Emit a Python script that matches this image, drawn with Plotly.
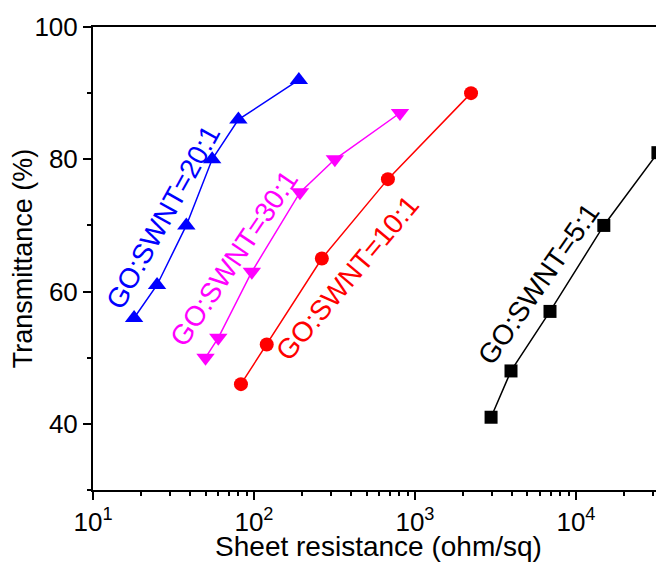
import plotly.graph_objects as go

FONT = "Liberation Sans, Arial, sans-serif"

# ---- data ----
r_20 = [18, 25, 38, 55, 80, 190]
t_20 = [56, 61, 70, 80, 86, 92]

r_30 = [50, 60, 97, 193, 318, 807]
t_30 = [50, 53, 63, 75, 80, 87]

r_10 = [83, 120, 264, 679, 2230]
t_10 = [46, 52, 65, 77, 90]

r_5 = [2970, 3950, 6900, 14900, 32300]
t_5 = [41, 48, 57, 70, 81]

x_tick_vals = [10, 100, 1000, 10000]
x_tick_text = ["10<sup>1</sup>", "10<sup>2</sup>", "10<sup>3</sup>", "10<sup>4</sup>"]

labels = ["GO:SWNT=20:1", "GO:SWNT=30:1", "GO:SWNT=10:1", "GO:SWNT=5:1"]
colors = ["#0000ff", "#ff00ff", "#ff0000", "#000000"]
symbols = ["triangle-up", "triangle-down", "circle", "square"]
msizes = [16, 16, 14, 13]
# label anchor positions (log10 x, y) and angles
label_pos = [(1.435, 71.2, -61), (1.876, 65.0, -56), (2.584, 62.1, -50), (3.770, 61.2, -55)]

series = [(r_20, t_20), (r_30, t_30), (r_10, t_10), (r_5, t_5)]

fig = go.Figure()
for (xs, ys), c, s, ms, name in zip(series, colors, symbols, msizes, labels):
    fig.add_trace(go.Scatter(
        x=xs, y=ys, mode="lines+markers", name=name,
        line=dict(color=c, width=1.5),
        marker=dict(symbol=s, size=ms, color=c),
        cliponaxis=False, showlegend=False,
    ))

for (lx, ly, ang), txt, c in zip(label_pos, labels, colors):
    fig.add_annotation(x=lx, y=ly, xref="x", yref="y", text=txt, showarrow=False,
                       textangle=ang, font=dict(family=FONT, size=28, color=c))

minor_x = [m * 10 ** e for e in range(1, 5) for m in range(2, 10)]

fig.update_xaxes(
    type="log", range=[1, 4.547],
    tickmode="array", tickvals=x_tick_vals, ticktext=x_tick_text,
    ticks="outside", ticklen=8, tickwidth=2, tickcolor="black",
    minor=dict(tickmode="array", tickvals=minor_x, ticks="outside", ticklen=4, tickwidth=1.5, tickcolor="black", showgrid=False),
    showline=True, linewidth=2, linecolor="black", mirror=True,
    showgrid=False, zeroline=False,
    tickfont=dict(family=FONT, size=26, color="black"),
    title=dict(text="Sheet resistance (ohm/sq)", font=dict(family=FONT, size=28, color="black"), standoff=2),
)
fig.update_yaxes(
    range=[30, 100], tick0=0, dtick=20,
    ticks="outside", ticklen=8, tickwidth=2, tickcolor="black",
    minor=dict(dtick=10, tick0=0, ticks="outside", ticklen=4, tickwidth=1.5, tickcolor="black", showgrid=False),
    showline=True, linewidth=2, linecolor="black",
    showgrid=False, zeroline=False,
    tickfont=dict(family=FONT, size=26, color="black"),
    title=dict(text="Transmittance (%)", font=dict(family=FONT, size=27, color="black"), standoff=0),
)

fig.update_layout(
    width=656, height=554,
    margin=dict(l=85, r=0, t=19, b=72),
    paper_bgcolor="white", plot_bgcolor="white",
    font=dict(family=FONT),
)

fig.write_html("out.html")
